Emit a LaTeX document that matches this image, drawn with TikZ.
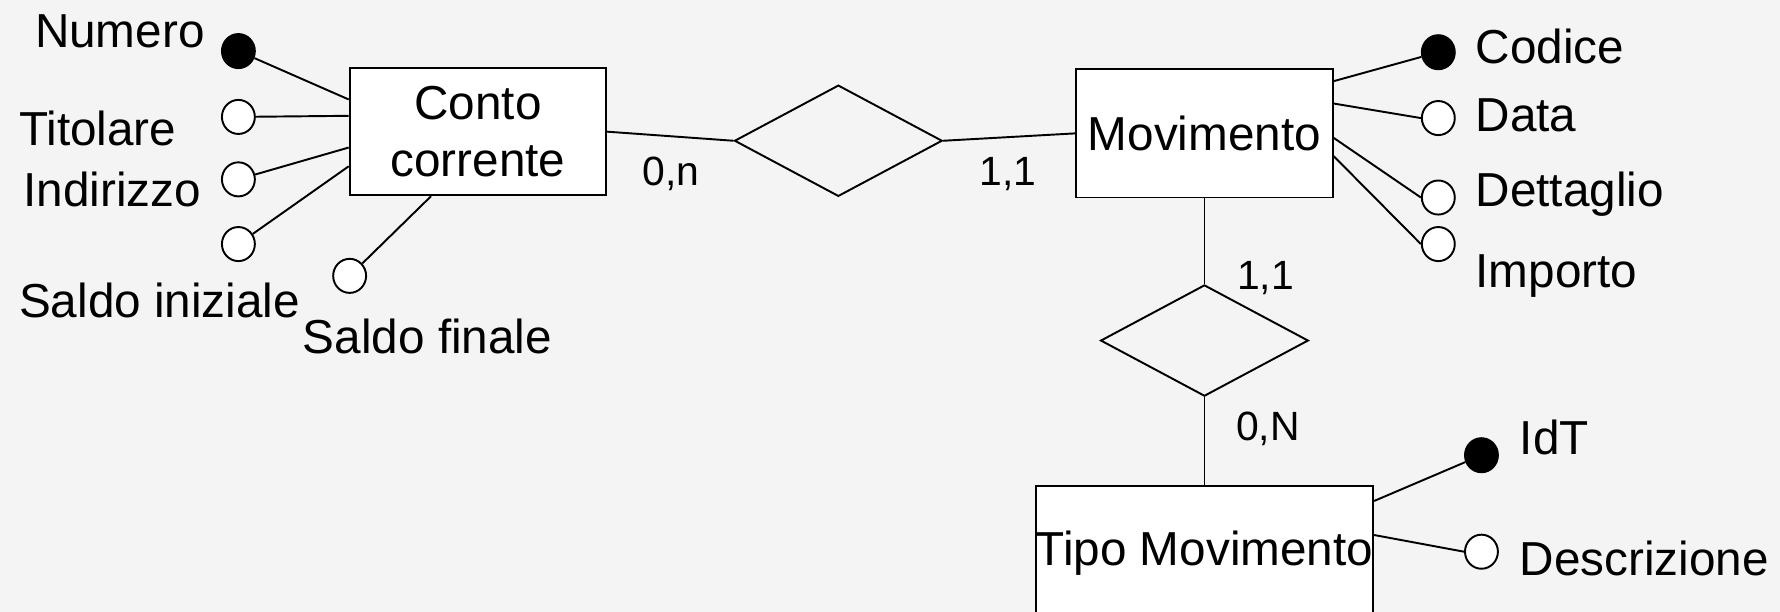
\documentclass[tikz,border=0pt]{standalone}
\usepackage{fontspec}
\setmainfont{Liberation Sans}
\usepackage{tikz}
\usetikzlibrary{shapes.geometric}
\definecolor{sfondo}{RGB}{244,244,244}

\begin{document}
\begin{tikzpicture}[x=0.5pt,y=0.5pt,yscale=-1,xscale=1,line width=0.85pt,
  every node/.style={font=\fontsize{21}{25}\selectfont, inner sep=0pt},
  entita/.style={draw, fill=white, align=center},
  relazione/.style={diamond, draw, minimum width=91.5pt, minimum height=49pt},
  attributo/.style={ellipse, draw, fill=white, minimum width=14.5pt, minimum height=15pt},
  chiave/.style={attributo, fill=black},
  etichetta/.style={anchor=base west},
  cardinalita/.style={anchor=base west, font=\fontsize{18}{22}\selectfont}]
%set diagram size and background
\clip (0,0) rectangle (1568,539);
\fill [sfondo] (0,0) rectangle (1568,539);

%Shape: Rectangle [entities]
\node [entita, minimum width=113pt, minimum height=56pt] (conto) at (421,116) {Conto\\corrente};
\node [entita, minimum width=113pt, minimum height=56.5pt] (movimento) at (1061,117.5) {Movimento};
\node [entita, minimum width=148pt, minimum height=59pt] (tipo) at (1061,487) {Tipo Movimento};
%Shape: Diamond [relationships]
\node [relazione] (rel1) at (738.5,124) {};
\node [relazione] (rel2) at (1061,300) {};

%Shape: Ellipse [attributes of Conto corrente]
\node [chiave] (numero) at (210,45) {};
\node [attributo] (titolare) at (210,103) {};
\node [attributo] (indirizzo) at (210,158) {};
\node [attributo] (saldoi) at (210,215) {};
\node [attributo] (saldof) at (308,243) {};
%Shape: Ellipse [attributes of Movimento]
\node [chiave] (codice) at (1267,46) {};
\node [attributo] (data) at (1267,104) {};
\node [attributo] (dettaglio) at (1267,174) {};
\node [attributo] (importo) at (1267,215) {};
%Shape: Ellipse [attributes of Tipo Movimento]
\node [chiave] (idt) at (1305,401) {};
\node [attributo] (descrizione) at (1305,486) {};

%Straight Lines
\draw (conto.east) -- (rel1.west);
\draw (rel1.east) -- (movimento.west);
\draw (movimento.south) -- (rel2.north);
\draw (rel2.south) -- (tipo.north);
\draw (numero) -- (conto.166);
\draw (titolare) -- (conto.173);
\draw (indirizzo) -- (conto.187);
\draw (saldoi) -- (conto.195);
\draw (saldof) -- (conto.234);
\draw (codice) -- (movimento.22);
\draw (data.west) -- (movimento.13);
\draw (dettaglio.west) -- (movimento.-2);
\draw (importo.west) -- (movimento.-10);
\draw (idt) -- (tipo.17.6);
\draw (descrizione.west) -- (tipo.6.9);

% Text Node
\node [etichetta] (lnumero) at (30,42) {Numero};
\node [etichetta] (ltitolare) at (16,128) {Titolare};
\node [etichetta] (lindirizzo) at (20,182) {Indirizzo};
\node [etichetta] (lsaldoi) at (16,280) {Saldo iniziale};
\node [etichetta] (lsaldof) at (266,311) {Saldo finale};
\node [etichetta] (lcodice) at (1299,56) {Codice};
\node [etichetta] (ldata) at (1299,116) {Data};
\node [etichetta] (ldettaglio) at (1299,182) {Dettaglio};
\node [etichetta] (limporto) at (1299,253) {Importo};
\node [etichetta] (lidt) at (1338,400) {IdT};
\node [etichetta] (ldescrizione) at (1338,507) {Descrizione};
% Text Node [cardinalities]
\node [cardinalita] (card1) at (565,163) {0,n};
\node [cardinalita] (card2) at (862,163) {1,1};
\node [cardinalita] (card3) at (1089,255) {1,1};
\node [cardinalita] (card4) at (1088,388) {0,N};

\end{tikzpicture}
\end{document}
